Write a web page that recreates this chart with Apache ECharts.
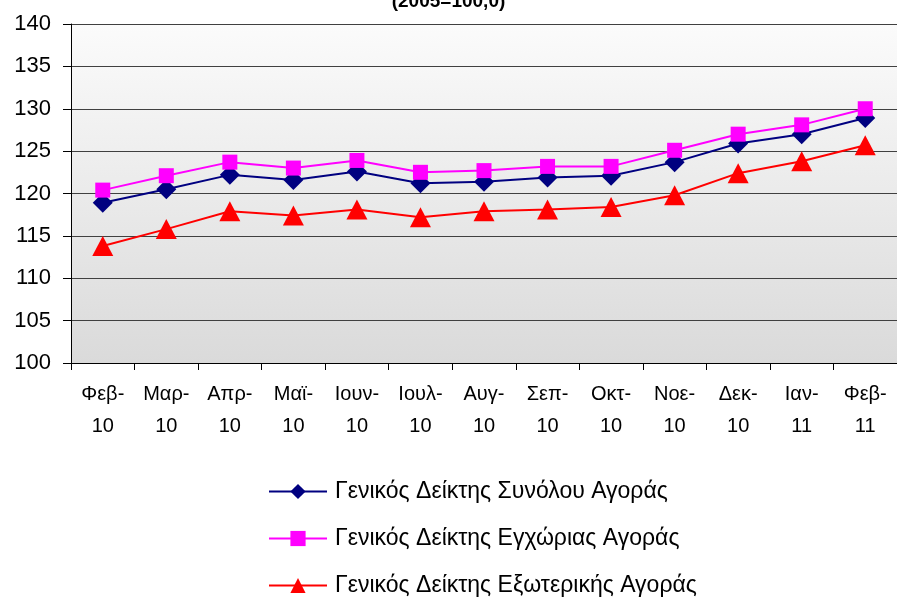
<!DOCTYPE html>
<html>
<head>
<meta charset="utf-8">
<script src="https://cdn.jsdelivr.net/npm/echarts@6/dist/echarts.min.js"></script>
<style>
  html, body { margin: 0; padding: 0; background: #fff; }
  #chart { width: 897px; height: 597px; }
</style>
</head>
<body>
<div id="chart"></div>
<script>
// categories (month-year)
const months = ['Φεβ-\n10', 'Μαρ-\n10', 'Απρ-\n10', 'Μαϊ-\n10', 'Ιουν-\n10', 'Ιουλ-\n10', 'Αυγ-\n10',
  'Σεπ-\n10', 'Οκτ-\n10', 'Νοε-\n10', 'Δεκ-\n10', 'Ιαν-\n11', 'Φεβ-\n11'];

// series values
const totalMarket = [118.9, 120.5, 122.2, 121.6, 122.6, 121.2, 121.4, 121.9, 122.1, 123.7, 125.9, 127.0, 128.9];
const domesticMarket = [120.4, 122.1, 123.7, 123.0, 123.9, 122.5, 122.7, 123.2, 123.2, 125.1, 127.0, 128.1, 130.0];
const foreignMarket = [113.8, 115.8, 117.9, 117.4, 118.1, 117.2, 117.9, 118.1, 118.4, 119.8, 122.4, 123.8, 125.7];

const seriesNames = [
  'Γενικός Δείκτης Συνόλου Αγοράς',
  'Γενικός Δείκτης Εγχώριας Αγοράς',
  'Γενικός Δείκτης Εξωτερικής Αγοράς'
];

const chart = echarts.init(document.getElementById('chart'));

const font = 'Liberation Sans, Arial, sans-serif';

const options = {
  animation: false,
  title: {
    text: '(2005=100,0)',
    left: 'center',
    top: -13,
    textStyle: { fontFamily: font, fontSize: 19, fontWeight: 'bold', color: '#000' }
  },
  grid: {
    left: 71,
    right: -1,
    top: 24,
    bottom: 234,
    show: true,
    borderWidth: 0,
    backgroundColor: new echarts.graphic.LinearGradient(0, 0, 0, 1, [
      { offset: 0, color: '#fbfbfb' },
      { offset: 1, color: '#dadada' }
    ])
  },
  legend: {
    orient: 'vertical',
    left: 268,
    top: 480,
    height: 300,
    padding: 0,
    itemWidth: 58,
    itemHeight: 19,
    itemGap: 24,
    data: seriesNames,
    textStyle: { fontFamily: font, fontSize: 23, color: '#000', padding: [0, 0, 0, 3] }
  },
  xAxis: {
    type: 'category',
    data: months,
    boundaryGap: true,
    axisLine: { lineStyle: { color: '#000', width: 1 } },
    axisTick: { show: true, length: 7, lineStyle: { color: '#000' } },
    axisLabel: {
      interval: 0,
      margin: 15,
      fontFamily: font,
      fontSize: 20,
      lineHeight: 32,
      color: '#000'
    }
  },
  yAxis: {
    type: 'value',
    min: 100,
    max: 140,
    interval: 5,
    axisLine: { show: true, lineStyle: { color: '#000', width: 1 } },
    axisTick: { show: true, length: 8, lineStyle: { color: '#000' } },
    axisLabel: { margin: 20, fontFamily: font, fontSize: 22, color: '#000' },
    splitLine: { show: true, lineStyle: { color: '#404040', width: 1 } }
  },
  series: [
    {
      name: seriesNames[0],
      type: 'line',
      data: totalMarket,
      symbol: 'diamond',
      symbolSize: [20, 20],
      itemStyle: { color: '#000080' },
      lineStyle: { color: '#000080', width: 2 },
      z: 3
    },
    {
      name: seriesNames[1],
      type: 'line',
      data: domesticMarket,
      symbol: 'rect',
      symbolSize: 15,
      itemStyle: { color: '#ff00ff' },
      lineStyle: { color: '#ff00ff', width: 2 },
      z: 4
    },
    {
      name: seriesNames[2],
      type: 'line',
      data: foreignMarket,
      symbol: 'triangle',
      symbolSize: [21, 20],
      itemStyle: { color: '#ff0000' },
      lineStyle: { color: '#ff0000', width: 2 },
      z: 2
    }
  ]
};

chart.setOption(options);
window.addEventListener('resize', () => chart.resize());
</script>
</body>
</html>
